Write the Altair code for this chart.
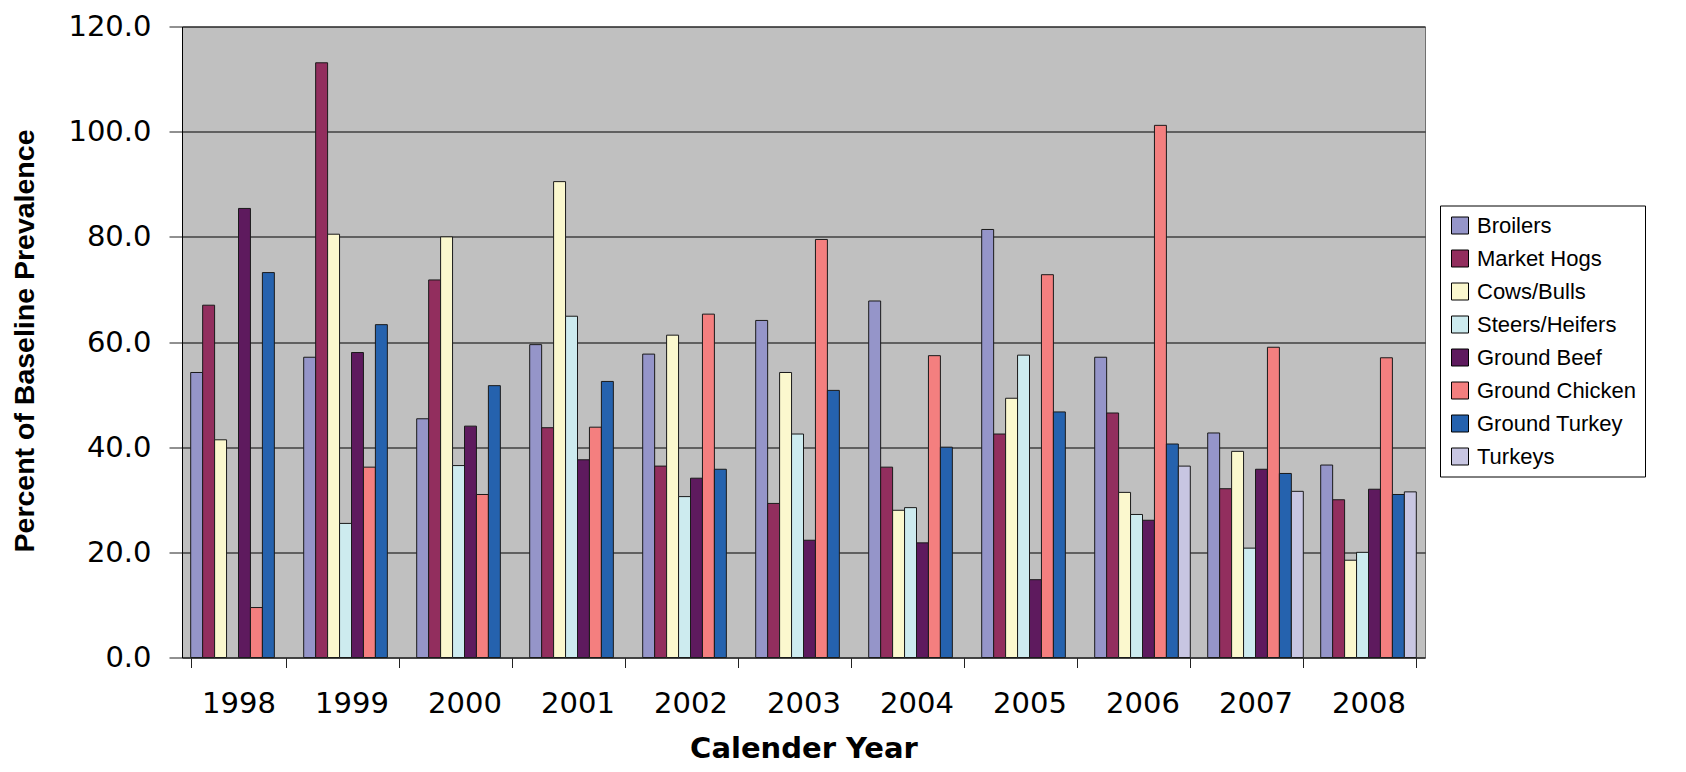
import altair as alt
import pandas as pd

years = ["1998", "1999", "2000", "2001", "2002", "2003", "2004", "2005", "2006", "2007", "2008"]
series = ["Broilers", "Market Hogs", "Cows/Bulls", "Steers/Heifers",
          "Ground Beef", "Ground Chicken", "Ground Turkey", "Turkeys"]
colors = ["#9595C9", "#922E5E", "#FBF8CE", "#CDEBEF",
          "#5E1A5E", "#F47F7F", "#2562AE", "#C8C6E2"]

broilers = [54.2, 57.1, 45.4, 59.5, 57.7, 64.1, 67.8, 81.4, 57.1, 42.7, 36.6]
market_hogs = [67.0, 113.1, 71.8, 43.7, 36.4, 29.3, 36.2, 42.5, 46.5, 32.1, 30.0]
cows_bulls = [41.4, 80.5, 80.0, 90.5, 61.3, 54.2, 28.0, 49.3, 31.4, 39.2, 18.5]
steers_heifers = [None, 25.5, 36.5, 64.9, 30.6, 42.5, 28.5, 57.5, 27.2, 20.8, 20.0]
ground_beef = [85.4, 58.0, 44.0, 37.6, 34.1, 22.3, 21.8, 14.8, 26.1, 35.8, 32.0]
ground_chicken = [9.5, 36.2, 31.0, 43.8, 65.3, 79.5, 57.4, 72.8, 101.2, 59.0, 57.0]
ground_turkey = [73.2, 63.3, 51.7, 52.5, 35.8, 50.8, 40.0, 46.7, 40.6, 35.0, 31.0]
turkeys = [None, None, None, None, None, None, None, None, 36.4, 31.6, 31.5]

values = [broilers, market_hogs, cows_bulls, steers_heifers,
          ground_beef, ground_chicken, ground_turkey, turkeys]

rows = []
for s, vals in zip(series, values):
    for y, v in zip(years, vals):
        if v is not None:
            rows.append({"Year": y, "Series": s, "Value": v})
df = pd.DataFrame(rows)

chart = alt.Chart(df).mark_bar(stroke="#1a1a1a", strokeWidth=1).encode(
    x=alt.X("Year:N", sort=years,
            scale=alt.Scale(paddingInner=0.154, paddingOuter=0.077),
            axis=alt.Axis(title="Calender Year", labelAngle=0, tickBand="extent",
                          tickSize=10, tickColor="#222222", domainColor="#333333",
                          labelFont="DejaVu Sans", labelFontSize=29, labelPadding=22,
                          labelColor="black",
                          titleFont="DejaVu Sans", titleFontSize=29, titleFontWeight="bold",
                          titleColor="black", titleBaseline="alphabetic", titleY=100)),
    xOffset=alt.XOffset("Series:N", sort=series,
                        scale=alt.Scale(domain=series, paddingInner=0, paddingOuter=0)),
    y=alt.Y("Value:Q", scale=alt.Scale(domain=[0, 120], nice=False),
            axis=alt.Axis(title="Percent of Baseline Prevalence",
                          values=[0, 20, 40, 60, 80, 100, 120], format=".1f",
                          tickSize=13, tickColor="#222222", domainColor="black",
                          gridColor="black", gridWidth=1,
                          labelFont="DejaVu Sans", labelFontSize=29, labelPadding=18,
                          labelColor="black",
                          titleFontSize=28.5, titleFontWeight="bold", titleColor="black",
                          titleAngle=270, titleX=-158, titleY=314,
                          titleAlign="center", titleBaseline="middle")),
    color=alt.Color("Series:N", sort=series,
                    scale=alt.Scale(domain=series, range=colors),
                    legend=alt.Legend(title=None, orient="none", legendX=1258, legendY=179,
                                      symbolType="square", symbolSize=289,
                                      symbolStrokeColor="black", symbolStrokeWidth=1,
                                      symbolOpacity=1,
                                      labelFontSize=22, labelColor="black", labelLimit=300,
                                      rowPadding=11, labelOffset=6, padding=9,
                                      strokeColor="black", fillColor="white")),
).properties(
    width=1243, height=631,
    autosize=alt.AutoSizeParams(type="none"),
    padding={"left": 174, "top": 18.5, "right": 253, "bottom": 106},
).configure(
    font="Liberation Sans", background="white"
).configure_view(
    fill="#C0C0C0", stroke="#707070", strokeWidth=1
)

chart.save("out.html", embed_options={"renderer": "svg", "actions": False})
